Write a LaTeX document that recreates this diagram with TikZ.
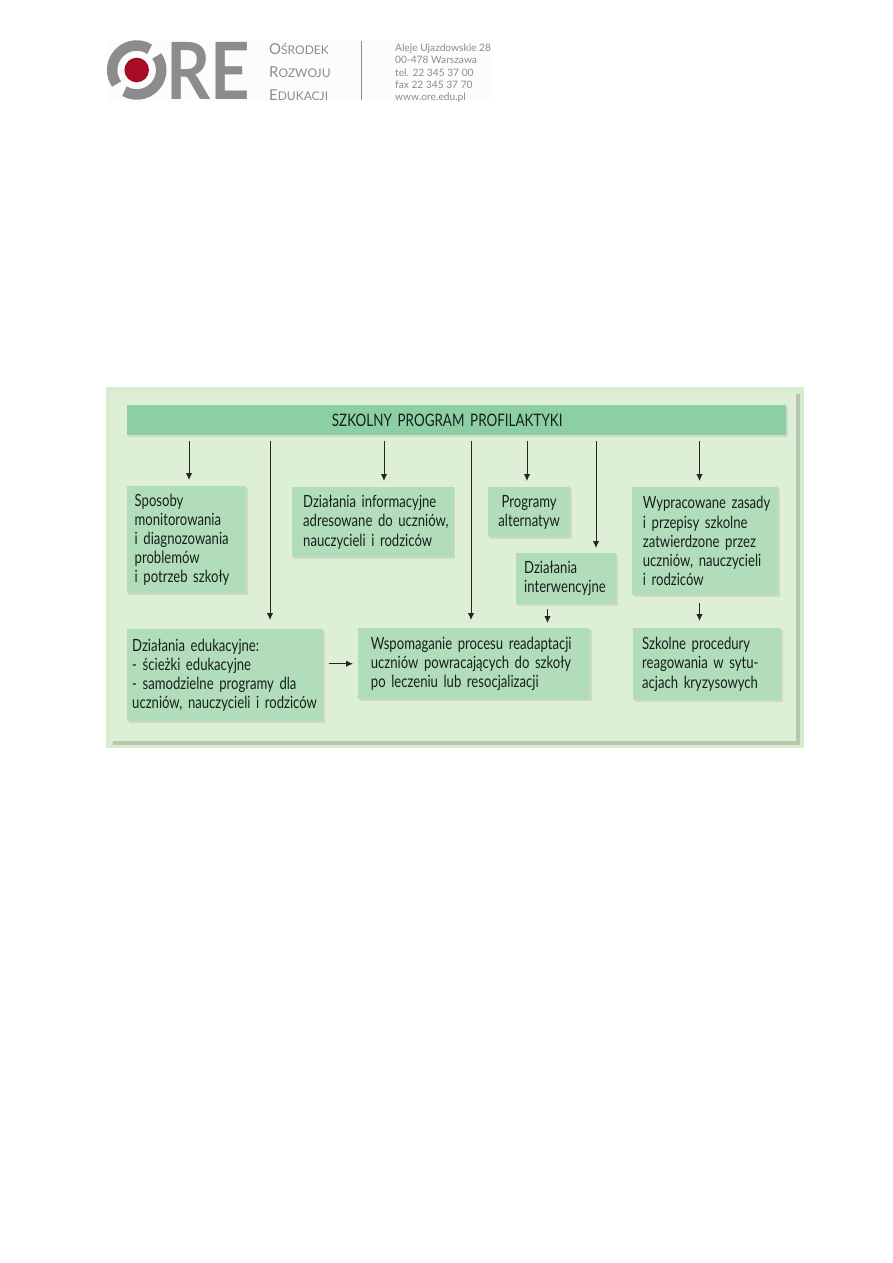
\documentclass[tikz,border=0pt]{standalone}
\usepackage{fontspec}
\setmainfont[FakeStretch=0.78]{Lato}
\newfontfamily\logofont{Lato}
\newfontfamily\logobig[FakeStretch=0.87]{Lato}
\usepackage{xcolor}
\usetikzlibrary{positioning,arrows.meta,calc,shadows}
\definecolor{cPanel}{HTML}{DDF0D6}
\definecolor{cEdge}{HTML}{D5ECCD}
\definecolor{cBox}{HTML}{B2DDBB}
\definecolor{cHead}{HTML}{8CCFA5}
\definecolor{cLogo}{HTML}{8C8C8C}
\definecolor{cRed}{HTML}{A80C25}
\definecolor{cInk}{HTML}{16201A}
\begin{document}
\begin{tikzpicture}[x=1pt,y=-1pt]
  \tikzset{
    box/.style={fill=cBox, anchor=north west, inner sep=0pt, align=left,
      text=cInk, font=\fontsize{16.8}{19.2}\selectfont,
      drop shadow={shadow xshift=1.5pt,shadow yshift=-1.5pt,fill=gray,opacity=0.18}},
    arr/.style={-{Latex[length=7pt,width=6.5pt]}, line width=1pt, black!85},
    logotxt/.style={anchor=west, inner sep=0pt, text=cLogo},
    ringarc/.style={cLogo, line width=10.5pt},
  }
  \useasboundingbox (0,0) rectangle (893,1263);
  % logo
  \fill[black!1] (107,40) rectangle (490,102);
  \draw[ringarc] (136.7,70) ++(-58:24.5) arc[start angle=-58,end angle=-215,radius=24.5];
  \draw[ringarc] (136.7,70) ++(-240:24.5) arc[start angle=-240,end angle=-395,radius=24.5];
  \fill[cRed] (136.7,70) circle (12.3);
  \node[logotxt, font=\logobig\bfseries\fontsize{79}{79}\selectfont] (logoRE) at (166,71) {RE};
  \node[logotxt, font=\logofont\fontsize{15}{15}\selectfont] (logoA) at (269,49) {O{\fontsize{12}{12}\selectfont ŚRODEK}};
  \node[logotxt, font=\logofont\fontsize{15}{15}\selectfont] (logoB) at (269,72) {R{\fontsize{12}{12}\selectfont OZWOJU}};
  \node[logotxt, font=\logofont\fontsize{15}{15}\selectfont] (logoC) at (269,95) {E{\fontsize{12}{12}\selectfont DUKACJI}};
  \node[anchor=north west, inner sep=0pt, align=left, text=cLogo,
    font=\logofont\fontsize{10.2}{12.2}\selectfont] (logoAddr) at (395,44)
    {Aleje Ujazdowskie 28\\00-478 Warszawa\\tel. 22 345 37 00\\fax 22 345 37 70\\www.ore.edu.pl};
  \coordinate (sepTop) at (361,41);
  \coordinate (sepBot) at (361,100);
  \draw[cLogo, line width=1pt] (sepTop) -- (sepBot);
  % panel
  \fill[cEdge] (106,387) rectangle (804,748);
  \fill[gray!35!cEdge] (113,394) rectangle (800,744.5);
  \fill[cPanel] (111,392) rectangle (796,741);
  % header
  \node[box, fill=cHead, minimum width=659.5pt, minimum height=30pt, text width=249pt, inner xsep=205.25pt,
    font=\fontsize{17.2}{19}\selectfont] (title) at (126.5,405) {SZKOLNY PROGRAM PROFILAKTYKI};
  % boxes
  \node[box, minimum width=119.5pt, minimum height=107pt, text width=103.5pt, inner xsep=8pt] (sposoby) at (126.5,486)
    {Sposoby\\monitorowania\\i diagnozowania\\problemów\\i potrzeb szkoły};
  \node[box, minimum width=162pt, minimum height=70pt, text width=139pt, inner xsep=11.5pt] (informacyjne) at (291.5,487)
    {\mbox{Działania informacyjne}\\\mbox{adresowane do uczniów,}\\\mbox{nauczycieli i rodziców}};
  \node[box, minimum width=82pt, minimum height=50pt, align=center, text width=82pt] (alternatyw) at (488,487)
    {Programy\\alternatyw};
  \node[box, minimum width=100pt, minimum height=51pt, text width=84pt, inner xsep=8pt] (interwencyjne) at (516,553)
    {Działania\\interwencyjne};
  \node[box, minimum width=146pt, minimum height=108pt, text width=124.6pt, inner xsep=10.7pt] (zasady) at (632,487)
    {\mbox{Wypracowane zasady}\\i przepisy szkolne\\\mbox{zatwierdzone przez}\\\mbox{uczniów, nauczycieli}\\i rodziców};
  \node[box, minimum width=196pt, minimum height=92pt, text width=186pt, inner xsep=5pt] (edukacyjne) at (127,629)
    {Działania edukacyjne:\\- ścieżki edukacyjne\\- samodzielne programy dla\\\mbox{uczniów, nauczycieli i rodziców}};
  \node[box, minimum width=232pt, minimum height=71pt, text width=206.6pt, inner xsep=12.7pt] (wspomaganie) at (358,628)
    {Wspomaganie procesu readaptacji\\uczniów powracających do szkoły\\po leczeniu lub resocjalizacji};
  \node[box, minimum width=148pt, minimum height=72pt, text width=130pt, inner xsep=9pt] (procedury) at (633,628)
    {Szkolne procedury\\reagowania w sytu-\\acjach kryzysowych};
  % arrows out of the header
  \foreach \xpos/\target/\gap in {189/sposoby/6,270/edukacyjne/9,384/informacyjne/6,471/wspomaganie/8,
    527/alternatyw/6,596/interwencyjne/5,699.5/zasady/6} {
    \coordinate (drop) at (\xpos,0);
    \draw[arr, shorten <=6pt, shorten >=\gap pt] (title.south -| drop) -- (\target.north -| drop);
  }
  % short arrows
  \coordinate (dropA) at (547.5,0);
  \coordinate (dropB) at (699.5,0);
  \draw[arr, shorten <=5pt, shorten >=5pt] (interwencyjne.south -| dropA) -- (wspomaganie.north -| dropA);
  \draw[arr, shorten <=8pt, shorten >=7pt] (zasady.south -| dropB) -- (procedury.north -| dropB);
  \draw[arr, shorten <=6pt, shorten >=5pt] (edukacyjne.east |- wspomaganie.west) -- (wspomaganie.west);
\end{tikzpicture}
\end{document}
